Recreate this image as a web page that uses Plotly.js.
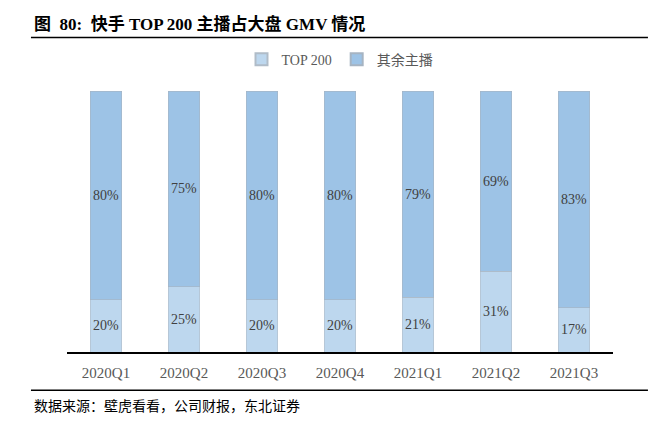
<!DOCTYPE html>
<html>
<head>
<meta charset="utf-8">
<script src="https://cdn.plot.ly/plotly-3.0.1.min.js"></script>
<style>html,body{margin:0;padding:0;background:#fff;}#chart{width:650px;height:421px;}</style>
</head>
<body>
<div id="chart"></div>
<script>
var categories = ["2020Q1","2020Q2","2020Q3","2020Q4","2021Q1","2021Q2","2021Q3"];
var top200 = [20, 25, 20, 20, 21, 31, 17];
var others = [80, 75, 80, 80, 79, 69, 83];
var seriesNames = ["TOP 200", "其余主播"];

var serif = "'Liberation Serif', 'Times New Roman', 'Noto Sans CJK SC', serif";
var cjk = "'Liberation Serif', 'Noto Sans CJK SC', sans-serif";

function pct(arr){ return arr.map(function(v){ return v + "%"; }); }

var traces = [
  {type:"bar", name:seriesNames[0], x:categories, y:top200, text:pct(top200),
   textposition:"inside", insidetextanchor:"middle", textangle:0,
   textfont:{family:serif, size:14, color:"#404040"},
   marker:{color:"#BDD7EE", line:{color:"#B0BCC8", width:0.6}}, hoverinfo:"skip"},
  {type:"bar", name:seriesNames[1], x:categories, y:others, text:pct(others),
   textposition:"inside", insidetextanchor:"middle", textangle:0,
   textfont:{family:serif, size:14, color:"#404040"},
   marker:{color:"#9DC3E6", line:{color:"#A6B4C2", width:0.6}}, hoverinfo:"skip"}
];

var layout = {
  width:650, height:421,
  margin:{l:67, r:37, t:91, b:69},
  barmode:"stack", bargap:0.59,
  paper_bgcolor:"#fff", plot_bgcolor:"#fff",
  showlegend:true,
  legend:{orientation:"h", x:0.5, xanchor:"center", y:1.12, yanchor:"middle",
          font:{family:cjk, size:14, color:"#595959"}, traceorder:"normal",
          itemwidth:30, itemsizing:"constant"},
  xaxis:{type:"category", showline:true, linecolor:"#000", linewidth:1.5,
         ticks:"", ticklabelstandoff:6, tickfont:{family:serif, size:15, color:"#595959"},
         showgrid:false, zeroline:false},
  yaxis:{range:[0,100], visible:false, showgrid:false, zeroline:false, fixedrange:true},
  annotations:[
    {xref:"paper", yref:"paper", x:-0.064, y:1.255, xanchor:"left", yanchor:"middle",
     text:"<b>图  80:  快手 TOP 200 主播占大盘 GMV 情况</b>", showarrow:false,
     font:{family:"'Liberation Serif', 'Noto Sans CJK SC', serif", size:17, color:"#000"}},
    {xref:"paper", yref:"paper", x:-0.064, y:-0.204, xanchor:"left", yanchor:"middle",
     text:"数据来源：壁虎看看，公司财报，东北证券", showarrow:false,
     font:{family:"'Noto Sans CJK SC', sans-serif", size:14, color:"#000"}}
  ],
  shapes:[
    {type:"line", xref:"paper", yref:"paper", x0:-0.066, x1:1.064, y0:1.205, y1:1.205,
     line:{color:"#000", width:1.5}},
    {type:"line", xref:"paper", yref:"paper", x0:-0.066, x1:1.064, y0:-0.147, y1:-0.147,
     line:{color:"#000", width:1.5}}
  ]
};

Plotly.newPlot("chart", traces, layout, {displayModeBar:false, staticPlot:true});
</script>
</body>
</html>
